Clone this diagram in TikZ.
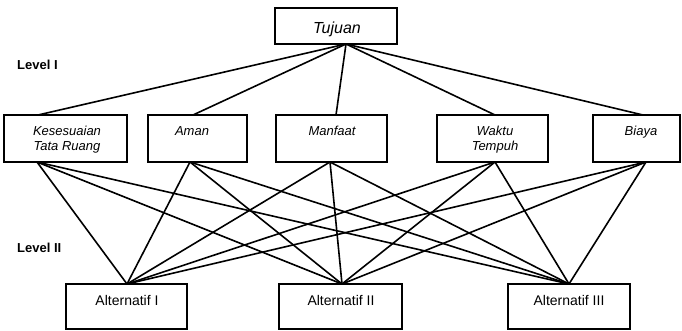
\documentclass[tikz,border=0pt]{standalone}
\usepackage{fontspec}
\setmainfont{Liberation Sans}
\begin{document}
\begin{tikzpicture}[x=1pt,y=-1pt,
  box/.style={draw=black,line width=2.4pt,fill=white},
  link/.style={draw=black,line width=1.6pt},
  crit/.style={font=\fontsize{13}{14.5}\selectfont\itshape,align=center,anchor=base,inner sep=0pt},
  alt/.style={font=\fontsize{14}{16}\selectfont,anchor=base,inner sep=0pt},
  lvl/.style={font=\fontsize{13}{15}\selectfont\bfseries,anchor=base west,inner sep=0pt}]
\useasboundingbox (0,0) rectangle (682,331);

% connection points on the box edges
\coordinate (tb) at (346,44);
\coordinate (kt) at (38,115);   \coordinate (kb) at (37,162);
\coordinate (at) at (193,115);  \coordinate (ab) at (190,162);
\coordinate (mt) at (336,115);  \coordinate (mb) at (330,162);
\coordinate (wt) at (495,115);  \coordinate (wb) at (495,162);
\coordinate (bt) at (643,115);  \coordinate (bb) at (646,162);
\coordinate (a1) at (127,284);  \coordinate (a2) at (342,284);  \coordinate (a3) at (569,284);

% goal to criteria
\foreach \c in {kt,at,mt,wt,bt} \draw[link] (tb) -- (\c);
% criteria to alternatives
\foreach \c in {kb,ab,mb,wb,bb}
  \foreach \a in {a1,a2,a3} \draw[link] (\c) -- (\a);

% boxes
\draw[box] (275,8) rectangle (397,44);
\draw[box] (4,115) rectangle (127,162);
\draw[box] (148,115) rectangle (247,162);
\draw[box] (276,115) rectangle (387,162);
\draw[box] (437,115) rectangle (548,162);
\draw[box] (593,115) rectangle (680,162);
\draw[box] (66,284) rectangle (187,329);
\draw[box] (279,284) rectangle (402,329);
\draw[box] (508,284) rectangle (630,329);

% texts (two-line nodes sit on the baseline of their last line)
\node[font=\fontsize{16}{18}\selectfont\itshape,anchor=base,inner sep=0pt] (tuj) at (337,34) {Tujuan};
\node[crit] (kes) at (67,150.5) {Kesesuaian\\Tata Ruang};
\node[crit] (aman) at (192,136) {Aman};
\node[crit] (manf) at (332,136) {Manfaat};
\node[crit] (wak) at (495,150.5) {Waktu\\Tempuh};
\node[crit] (bia) at (641,136) {Biaya};
\node[alt] (alt1) at (127,305) {Alternatif I};
\node[alt] (alt2) at (341,305) {Alternatif II};
\node[alt] (alt3) at (569,305) {Alternatif III};
\node[lvl] (lv1) at (17,70) {Level I};
\node[lvl] (lv2) at (17,252) {Level II};
\end{tikzpicture}
\end{document}
